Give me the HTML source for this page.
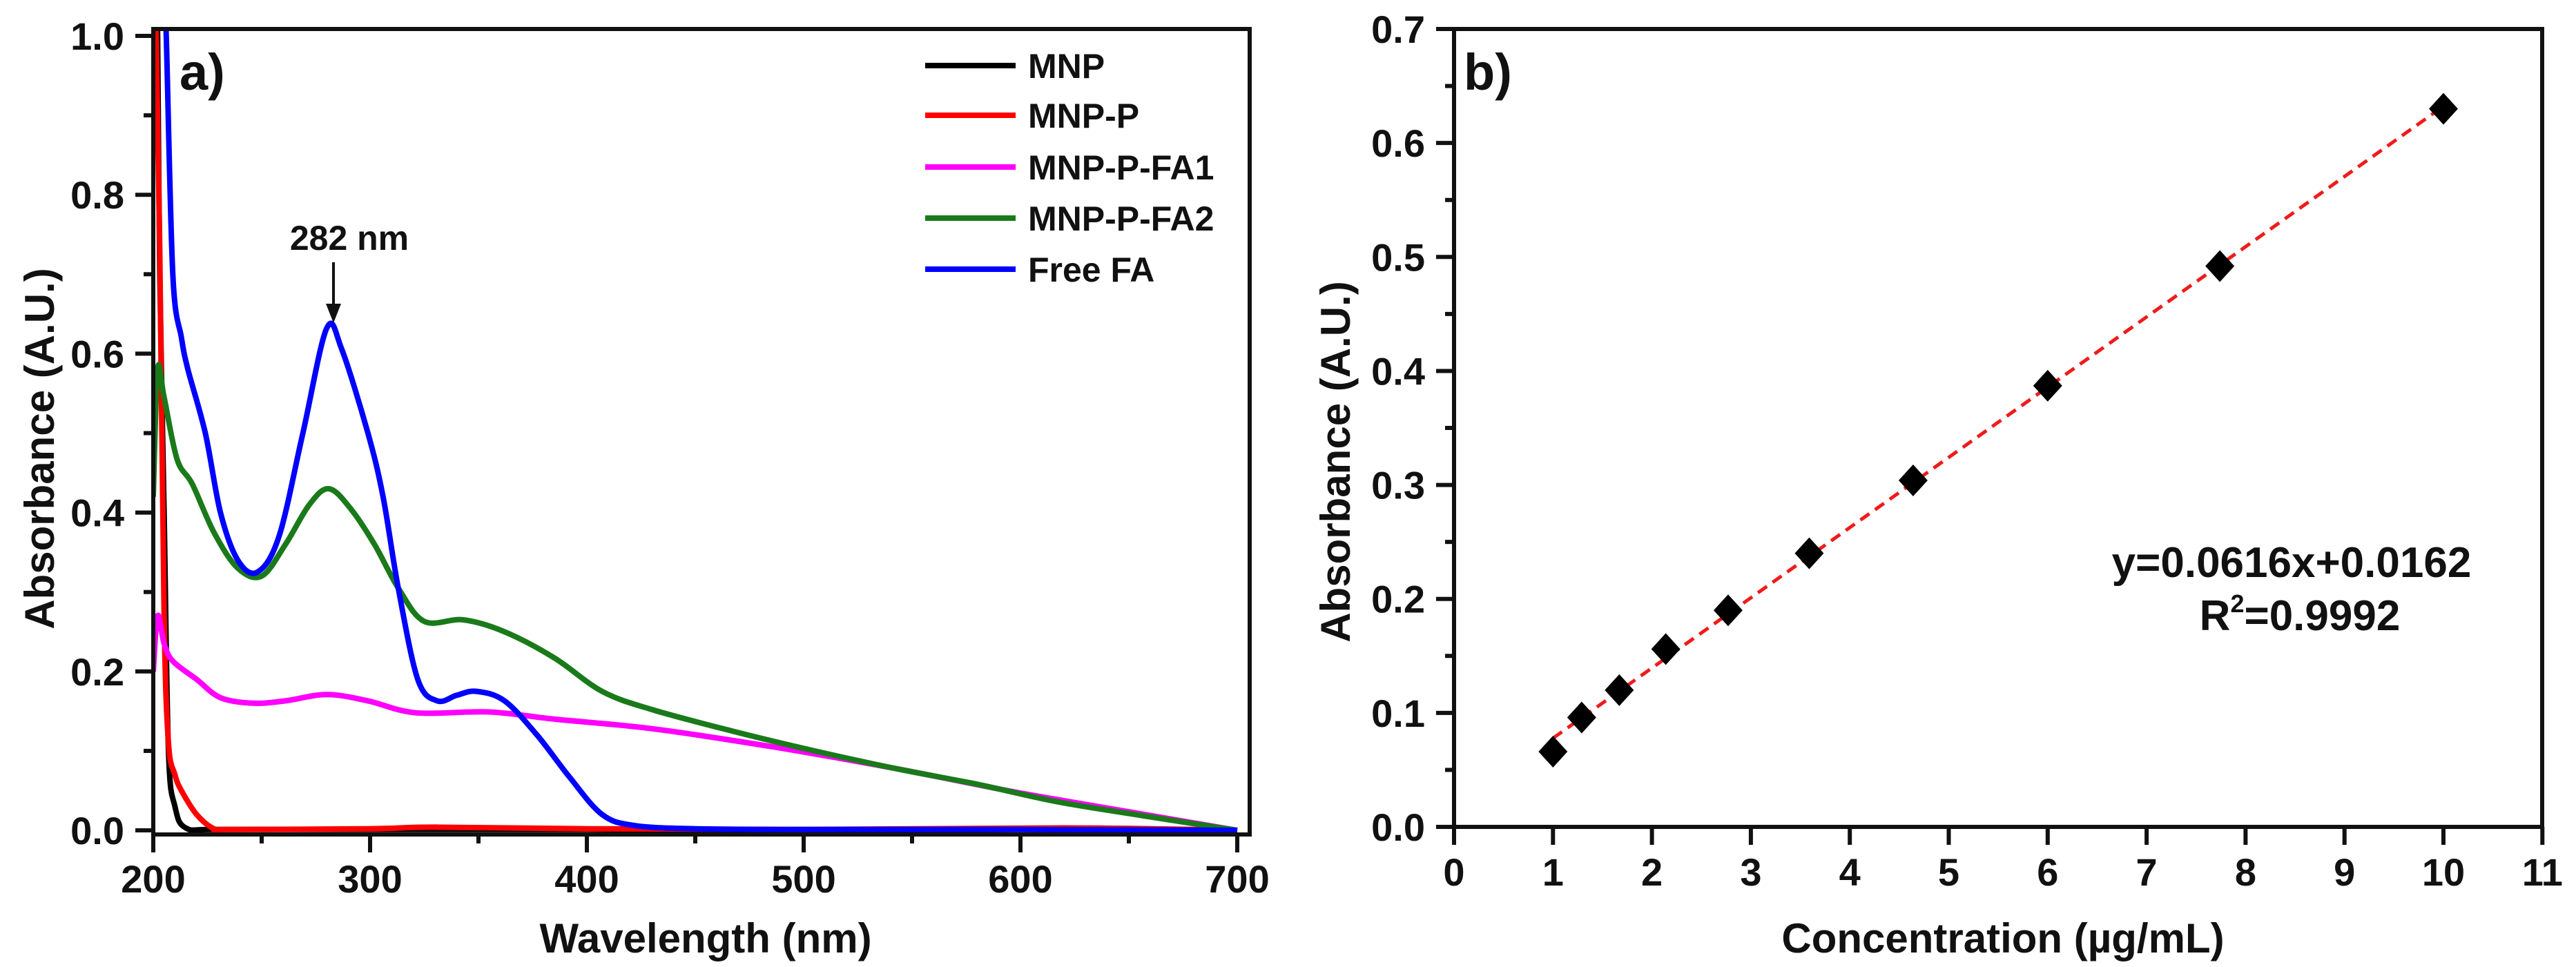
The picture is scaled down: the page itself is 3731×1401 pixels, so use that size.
<!DOCTYPE html>
<html><head><meta charset="utf-8"><style>
html,body{margin:0;padding:0;background:#fff;}
svg{display:block;}
text{font-family:"Liberation Sans Narrow","Liberation Sans",sans-serif;font-weight:bold;fill:#111;}
</style></head><body>
<svg id="fig" width="3731" height="1401" viewBox="0 0 3731 1401" xmlns="http://www.w3.org/2000/svg">
<g id="pa"></g>
<g id="pb"></g>
</svg>
<script>
// ---------- Panel A data ----------
const seriesNames = ["MNP","MNP-P","MNP-P-FA1","MNP-P-FA2","Free FA"];
const seriesColors = ["#000000","#ff0000","#ff00ff","#1a7a1a","#0000ff"];
const mnpX = [201,202,203,205,207,210,215,230,300,400,500,600,700];
const mnpY = [1.05,1.0,0.7,0.4,0.1,0.03,0.003,0.001,0.001,0.001,0.0,0.001,0.0];
const mnpPX = [201,203,205,207,210,213,220,228,235,300,330,400,500,620,700];
const mnpPY = [1.05,0.73,0.27,0.11,0.07,0.05,0.02,0.002,0.001,0.002,0.004,0.002,0.001,0.003,0.0];
const fa1X = [200,202,205,209,220,231,246,261,280,299,321,355,385,430,486,542,598,655,700];
const fa1Y = [0.2,0.27,0.235,0.213,0.19,0.167,0.16,0.163,0.171,0.163,0.148,0.149,0.14,0.128,0.105,0.078,0.048,0.021,0.0];
const fa2X = [200,202,205,211,218,228,239,250,261,272,281,291,302,313,325,343,362,385,407,430,467,505,542,580,617,655,700];
const fa2Y = [0.42,0.58,0.545,0.467,0.436,0.375,0.33,0.32,0.36,0.41,0.43,0.405,0.36,0.305,0.263,0.265,0.25,0.217,0.175,0.152,0.125,0.1,0.078,0.058,0.036,0.019,0.0];
const faX = [205,206,209,213,216,224,231,239,248,258,269,280,287,299,306,313,322,331,340,349,362,377,392,407,422,450,500,600,700];
const faY = [1.05,1.0,0.7,0.62,0.58,0.5,0.4,0.34,0.325,0.37,0.5,0.632,0.605,0.5,0.42,0.305,0.19,0.163,0.17,0.175,0.163,0.12,0.067,0.02,0.006,0.002,0.001,0.001,0.0];
const aXTicks = [200,300,400,500,600,700];
const aYTicks = [0.0,0.2,0.4,0.6,0.8,1.0];

// ---------- Panel B data ----------
const conc = [1.0,1.29,1.67,2.14,2.77,3.59,4.64,6.0,7.74,10.0];
const absorb = [0.066,0.096,0.12,0.156,0.19,0.24,0.304,0.387,0.492,0.63];
const fitSlope = 0.0616, fitIntercept = 0.0162;
const bXTicks = [0,1,2,3,4,5,6,7,8,9,10,11];
const bYTicks = [0.0,0.1,0.2,0.3,0.4,0.5,0.6,0.7];

const NS="http://www.w3.org/2000/svg";
function mk(parent,tag,attrs,txt){const e=document.createElementNS(NS,tag);for(const k in attrs)e.setAttribute(k,attrs[k]);if(txt!==undefined)e.textContent=txt;parent.appendChild(e);return e;}
function smooth(pts){
  let d='M'+pts[0][0].toFixed(1)+','+pts[0][1].toFixed(1);
  for(let i=0;i<pts.length-1;i++){
    const p0=pts[Math.max(0,i-1)],p1=pts[i],p2=pts[i+1],p3=pts[Math.min(pts.length-1,i+2)];
    const c1x=p1[0]+(p2[0]-p0[0])/6,c1y=p1[1]+(p2[1]-p0[1])/6;
    const c2x=p2[0]-(p3[0]-p1[0])/6,c2y=p2[1]-(p3[1]-p1[1])/6;
    d+=`C${c1x.toFixed(1)},${c1y.toFixed(1)} ${c2x.toFixed(1)},${c2y.toFixed(1)} ${p2[0].toFixed(1)},${p2[1].toFixed(1)}`;
  }
  return d;
}

// Panel A
const pa=document.getElementById('pa');
const ax=v=>222+(v-200)*(1570/500);
const ay=v=>1203-v*1151;
const clipA=mk(pa,'clipPath',{id:'ca'});mk(clipA,'rect',{x:222,y:42,width:1588,height:1167});
const curves=[[mnpX,mnpY],[mnpPX,mnpPY],[fa1X,fa1Y],[fa2X,fa2Y],[faX,faY]];
const cg=mk(pa,'g',{'clip-path':'url(#ca)'});
curves.forEach((c,i)=>{
  const pts=c[0].map((x,j)=>[ax(x),ay(c[1][j])]);
  const p=mk(cg,'path',{d:smooth(pts),fill:'none',stroke:seriesColors[i],'stroke-width':8,'stroke-linejoin':'round'});
  
  
});
mk(pa,'rect',{x:222,y:42,width:1588,height:1167,fill:'none',stroke:'#111','stroke-width':6,});
aXTicks.forEach((t,i)=>{
  mk(pa,'line',{x1:ax(t),y1:1209,x2:ax(t),y2:1235,stroke:'#111','stroke-width':6});
  if(i<aXTicks.length-1) mk(pa,'line',{x1:ax(t+50),y1:1209,x2:ax(t+50),y2:1222,stroke:'#111','stroke-width':6});
  const l=mk(pa,'text',{x:ax(t),y:1293,'font-size':56,'text-anchor':'middle'},String(t));
  
});
aYTicks.forEach((t,i)=>{
  mk(pa,'line',{x1:196,y1:ay(t),x2:222,y2:ay(t),stroke:'#111','stroke-width':6});
  if(i<aYTicks.length-1) mk(pa,'line',{x1:208,y1:ay(t+0.1),x2:222,y2:ay(t+0.1),stroke:'#111','stroke-width':6});
  const l=mk(pa,'text',{x:180,y:ay(t)+20,'font-size':56,'text-anchor':'end'},t.toFixed(1));
  
});
mk(pa,'text',{x:1022,y:1380,'font-size':60,'text-anchor':'middle',},'Wavelength (nm)');
mk(pa,'text',{x:0,y:0,'font-size':60,'text-anchor':'middle',transform:'translate(78,650) rotate(-90)',},'Absorbance (A.U.)');
mk(pa,'text',{x:260,y:130,'font-size':74,},'a)');
mk(pa,'text',{x:506,y:362,'font-size':50,'text-anchor':'middle',},'282 nm');
mk(pa,'line',{x1:483,y1:380,x2:483,y2:450,stroke:'#111','stroke-width':4,});
mk(pa,'path',{d:'M472,440 L494,440 L483,468 Z',fill:'#111'});
const legY=[95,167,242,316,390];
seriesNames.forEach((n,i)=>{
  const g=mk(pa,'g',{});
  
  
  mk(g,'line',{x1:1340,y1:legY[i],x2:1471,y2:legY[i],stroke:seriesColors[i],'stroke-width':8});
  mk(g,'text',{x:1489,y:legY[i]+18,'font-size':50},n);
});

// Panel B
const pb=document.getElementById('pb');
const bx=v=>2106+v*143.3;
const by=v=>1198-v*1651.4;
mk(pb,'rect',{x:2106,y:42,width:1576,height:1156,fill:'none',stroke:'#111','stroke-width':6,});
bXTicks.forEach(t=>{
  mk(pb,'line',{x1:bx(t),y1:1198,x2:bx(t),y2:1224,stroke:'#111','stroke-width':6});
  const l=mk(pb,'text',{x:bx(t),y:1283,'font-size':56,'text-anchor':'middle'},String(t));
  
});
bYTicks.forEach((t,i)=>{
  mk(pb,'line',{x1:2080,y1:by(t),x2:2106,y2:by(t),stroke:'#111','stroke-width':6});
  if(i<bYTicks.length-1) mk(pb,'line',{x1:2093,y1:by(t+0.05),x2:2106,y2:by(t+0.05),stroke:'#111','stroke-width':6});
  const l=mk(pb,'text',{x:2064,y:by(t)+20,'font-size':56,'text-anchor':'end'},t.toFixed(1));
  
});
const xa=conc[0], xb=conc[conc.length-1];
mk(pb,'line',{x1:bx(xa),y1:by(fitSlope*xa+fitIntercept),x2:bx(xb),y2:by(fitSlope*xb+fitIntercept),stroke:'#ee1c1c','stroke-width':5,'stroke-dasharray':'16,10',});
conc.forEach((c,i)=>{
  const cx=bx(c),cy=by(absorb[i]);
  const p=mk(pb,'path',{d:`M${cx},${cy-23} L${cx+21},${cy} L${cx},${cy+23} L${cx-21},${cy} Z`,fill:'#000'});
  
  
});
mk(pb,'text',{x:2901,y:1380,'font-size':60,'text-anchor':'middle',},'Concentration (µg/mL)');
mk(pb,'text',{x:0,y:0,'font-size':60,'text-anchor':'middle',transform:'translate(1955,669) rotate(-90)',},'Absorbance (A.U.)');
mk(pb,'text',{x:2120,y:130,'font-size':74,},'b)');
mk(pb,'text',{x:3319,y:836,'font-size':62,'text-anchor':'middle',},'y=0.0616x+0.0162');
const r2=mk(pb,'text',{x:3331,y:913,'font-size':62,'text-anchor':'middle',});
r2.innerHTML='R<tspan dy="-26" font-size="36">2</tspan><tspan dy="26">=0.9992</tspan>';
</script>
</body></html>
